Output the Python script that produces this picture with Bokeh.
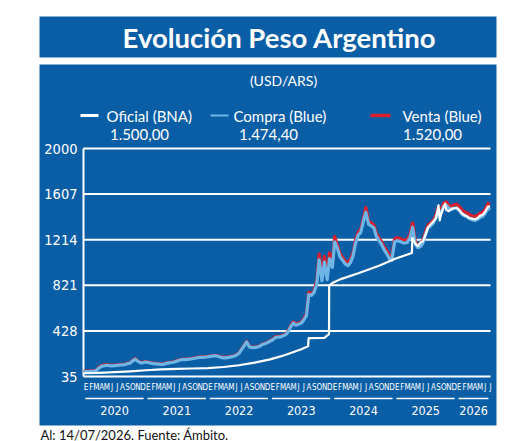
import numpy as np
import pandas as pd
from bokeh.plotting import figure
from bokeh.models import Range1d
from bokeh.core.properties import value
from bokeh.embed import file_html
from bokeh.resources import INLINE

# ---------------- texts ----------------
TITULO = "Evolución Peso Argentino"
SUBTITULO = "(USD/ARS)"
SERIES = ["Oficial (BNA)", "Compra (Blue)", "Venta (Blue)"]
ULTIMOS = ["1.500,00", "1.474,40", "1.520,00"]
FUENTE = "Al: 14/07/2026. Fuente: Ámbito."
Y_TICKS = [35, 428, 821, 1214, 1607, 2000]
MESES = ["E", "F", "M", "A", "M", "J", "J", "A", "S", "O", "N", "D"]
ANIOS = [2020, 2021, 2022, 2023, 2024, 2025, 2026]

# ---------------- data ----------------
fechas_oficial = [
    "2020-01-01", "2020-04-01", "2020-07-01", "2020-10-01",
    "2021-01-01", "2021-04-01", "2021-07-01", "2021-10-01",
    "2022-01-01", "2022-04-01", "2022-07-01", "2022-10-01",
    "2023-01-01", "2023-03-01", "2023-05-01", "2023-07-01",
    "2023-08-11", "2023-08-14", "2023-11-15", "2023-12-12", "2023-12-13",
    "2024-01-01", "2024-02-15", "2024-06-01", "2024-10-01",
    "2025-01-01", "2025-04-11", "2025-04-14", "2025-05-01", "2025-05-15",
    "2025-06-01", "2025-06-15", "2025-07-01", "2025-07-15", "2025-08-01",
    "2025-08-15", "2025-09-01", "2025-09-15", "2025-09-22", "2025-10-01",
    "2025-10-15", "2025-10-24", "2025-11-01", "2025-11-15", "2025-12-01",
    "2025-12-15", "2026-01-01", "2026-01-15", "2026-02-01", "2026-02-15",
    "2026-03-01", "2026-03-15", "2026-04-01", "2026-04-15", "2026-05-01",
    "2026-05-15", "2026-06-01", "2026-06-15", "2026-07-01", "2026-07-14",
]
oficial = [
    63, 67, 73, 80,
    89, 97, 101, 104,
    108, 117, 132, 155,
    183, 208, 238, 270,
    295, 365, 368, 400, 820,
    840, 872, 925, 990,
    1048, 1100, 1230, 1180, 1160,
    1190, 1200, 1260, 1320, 1350,
    1370, 1400, 1510, 1380, 1440,
    1490, 1525, 1470, 1460, 1480,
    1485, 1490, 1470, 1440, 1425,
    1415, 1400, 1395, 1390, 1400,
    1420, 1430, 1455, 1500, 1500,
]

# blue market, sampled on the 1st and 15th of every month (last: 14/07/2026)
compra_2020 = [74, 77, 78, 79, 80, 85, 110, 122, 128, 132, 128, 126,
               128, 131, 134, 135, 138, 145, 150, 168, 185, 165, 152, 153]
venta_2020 = [78, 81, 82, 83, 84, 89, 116, 128, 136, 138, 134, 132,
              133, 136, 138, 139, 142, 149, 154, 172, 190, 169, 157, 158]
compra_2021 = [160, 156, 150, 146, 144, 142, 140, 142, 148, 152, 156, 160,
               166, 175, 180, 180, 182, 185, 188, 192, 197, 200, 200, 202]
venta_2021 = [164, 160, 154, 150, 148, 146, 144, 146, 152, 156, 160, 164,
              170, 179, 184, 184, 186, 189, 192, 196, 201, 204, 204, 206]
compra_2022 = [205, 208, 212, 214, 208, 200, 195, 196, 200, 204, 210, 218,
               235, 265, 300, 333, 290, 284, 284, 288, 296, 310, 318, 325]
venta_2022 = [209, 212, 216, 218, 212, 204, 199, 200, 204, 208, 214, 222,
              239, 270, 305, 338, 294, 288, 288, 292, 300, 314, 322, 329]
compra_2023 = [340, 350, 370, 375, 376, 385, 395, 420, 465, 495, 478, 485,
               495, 520, 560, 740, 735, 760, 830, 1040, 860, 1020, 870, 1050]
venta_2023 = [345, 355, 376, 381, 382, 391, 401, 428, 475, 505, 488, 495,
              505, 530, 575, 760, 750, 775, 860, 1090, 900, 1070, 910, 1100]
compra_2024 = [975, 1195, 1135, 1065, 1035, 1005, 990, 1015, 1075, 1180, 1255, 1275,
               1375, 1450, 1345, 1335, 1315, 1245, 1205, 1175, 1125, 1095, 1050, 1035]
venta_2024 = [1000, 1240, 1160, 1090, 1060, 1030, 1015, 1040, 1100, 1210, 1280, 1300,
              1400, 1490, 1370, 1360, 1340, 1270, 1230, 1200, 1150, 1120, 1075, 1060]
compra_2025 = [1195, 1205, 1200, 1190, 1185, 1190, 1235, 1320, 1175, 1145, 1155, 1185,
               1265, 1315, 1335, 1355, 1405, 1470, 1445, 1500, 1510, 1485, 1475, 1485]
venta_2025 = [1220, 1230, 1225, 1215, 1210, 1215, 1260, 1360, 1200, 1170, 1180, 1210,
              1290, 1340, 1360, 1380, 1430, 1500, 1470, 1530, 1540, 1510, 1500, 1515]
compra_2026 = [1485, 1465, 1435, 1420, 1410, 1395, 1385, 1380, 1390, 1405, 1415, 1440,
               1485, 1474.4]
venta_2026 = [1520, 1500, 1470, 1455, 1445, 1430, 1420, 1415, 1425, 1440, 1450, 1475,
              1525, 1520]

compra = compra_2020 + compra_2021 + compra_2022 + compra_2023 + compra_2024 + compra_2025 + compra_2026
venta = venta_2020 + venta_2021 + venta_2022 + venta_2023 + venta_2024 + venta_2025 + venta_2026
fechas_blue = list(pd.date_range("2020-01-01", "2026-07-01", freq="SMS").strftime("%Y-%m-%d")) + ["2026-07-14"]
assert len(fechas_blue) == len(compra) == len(venta)

# ---------------- style ----------------
AZUL = "#0A5EA6"
CELESTE = "#6DB6E6"
ROJO = "#D9202C"
NARROW = value("DejaVu Sans Condensed")
SANS = value("Lato")

W, H = 520, 441
PL, PR, PT, PB = 83, 490, 148, 376          # plot area in page pixels
X0, X1 = 0.0, 78.5                          # months since Jan 2020
kx = (PR - PL) / (X1 - X0)
ky = (PB - PT) / (Y_TICKS[-1] - Y_TICKS[0])


def mes_pos(fechas):
    d = pd.to_datetime(pd.Series(fechas))
    return ((d.dt.year - ANIOS[0]) * 12 + d.dt.month - 1 + (d.dt.day - 1) / d.dt.days_in_month).to_numpy()


p = figure(width=W, height=H,
           x_range=Range1d(X0 - PL / kx, X0 + (W - PL) / kx),
           y_range=Range1d(Y_TICKS[0] - (H - PB) / ky, Y_TICKS[0] + PB / ky),
           x_axis_location=None, y_axis_location=None,
           output_backend="svg", toolbar_location=None,
           min_border=0, min_border_left=0, min_border_right=0,
           min_border_top=0, min_border_bottom=0)
p.extra_x_ranges = {"px": Range1d(0, W)}
p.extra_y_ranges = {"px": Range1d(H, 0)}
p.grid.visible = False
p.outline_line_color = None
p.background_fill_color = "white"
p.border_fill_color = "white"

# panels
p.quad(left=[39, 39], right=[496, 496], top=[16, 64], bottom=[57, 425],
       x_range_name="px", y_range_name="px", fill_color=AZUL, line_color=None)
p.text(x=[279], y=[37], text=[TITULO], x_range_name="px", y_range_name="px",
       text_align="center", text_baseline="middle", text_color="white",
       text_font=SANS, text_font_style="bold", text_font_size="27.5px")
p.text(x=[283], y=[80], text=[SUBTITULO], x_range_name="px", y_range_name="px",
       text_align="center", text_baseline="middle", text_color="white",
       text_font=SANS, text_font_size="14px")

# legend
p.segment(x0=[80, 210, 370], x1=[98, 228, 390], y0=[115] * 3, y1=[115] * 3,
          x_range_name="px", y_range_name="px",
          line_color=["white", CELESTE, ROJO], line_width=[3, 2, 3.5])
p.text(x=[106, 233, 402], y=[115] * 3, text=SERIES, x_range_name="px", y_range_name="px",
       text_align="left", text_baseline="middle", text_color="white",
       text_font=SANS, text_font_size="15px")
p.text(x=[139, 268, 432], y=[134] * 3, text=ULTIMOS, x_range_name="px", y_range_name="px",
       text_align="center", text_baseline="middle", text_color="white",
       text_font=SANS, text_font_size="15px")

# grid and axis
n = len(Y_TICKS)
p.segment(x0=[X0] * n, x1=[X1] * n, y0=Y_TICKS, y1=Y_TICKS, line_color="white", line_width=2)
p.segment(x0=[X0], x1=[X0], y0=[Y_TICKS[0]], y1=[Y_TICKS[-1]], line_color="white", line_width=2)
p.text(x=[X0] * n, y=Y_TICKS, text=[str(t) for t in Y_TICKS], x_offset=-6,
       text_align="right", text_baseline="middle", text_color="white",
       text_font=NARROW, text_font_size="14.5px")

# month letters, year underlines and labels
n_meses = int(np.ceil(X1))
mx = np.arange(n_meses) + 0.5
p.text(x=mx, y=[387] * n_meses, text=[MESES[i % 12] for i in range(n_meses)],
       y_range_name="px", text_align="center", text_baseline="middle",
       text_color="white", text_font=NARROW, text_font_size="8px")
ys = np.array([(a - ANIOS[0]) * 12 for a in ANIOS], dtype=float)
ye = np.minimum(ys + 12, X1)
p.segment(x0=ys + 0.35, x1=ye - 0.4, y0=[398] * len(ANIOS), y1=[398] * len(ANIOS),
          y_range_name="px", line_color="white", line_width=1.5)
p.text(x=(ys + ye) / 2, y=[410] * len(ANIOS), text=[str(a) for a in ANIOS],
       y_range_name="px", text_align="center", text_baseline="middle",
       text_color="white", text_font=NARROW, text_font_size="12.5px")

# series
mb = mes_pos(fechas_blue)
p.line(mb, venta, line_color=ROJO, line_width=3.2, line_join="round")
p.line(mb, compra, line_color=CELESTE, line_width=3.2, line_join="round")
p.line(mes_pos(fechas_oficial), oficial, line_color="white", line_width=2.2, line_join="round")

# footer
p.text(x=[40], y=[434], text=[FUENTE], x_range_name="px", y_range_name="px",
       text_align="left", text_baseline="middle", text_color="#111111",
       text_font=SANS, text_font_size="13px")

open("out.html", "w").write(file_html(p, INLINE))
